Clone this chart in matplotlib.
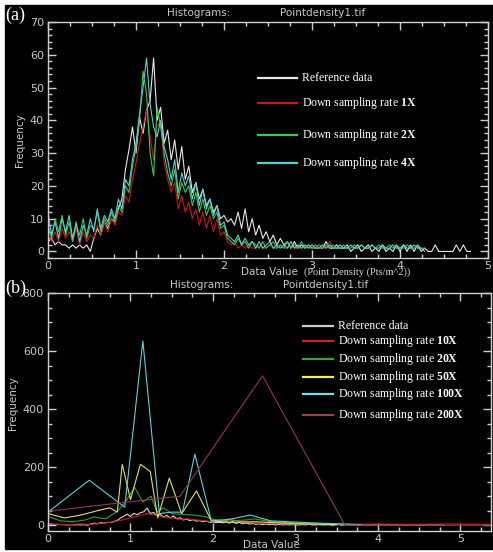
import numpy as np
import matplotlib
matplotlib.use("Agg")
import matplotlib.pyplot as plt
from matplotlib.patches import Rectangle
from matplotlib.ticker import MultipleLocator

plt.rcParams["mathtext.fontset"] = "custom"
plt.rcParams["mathtext.rm"] = "Liberation Serif"
plt.rcParams["mathtext.bf"] = "Liberation Serif:bold"

# ---- panel (a): histograms, bin step 0.04 starting at 0 ----
STEP_A = 0.04
ref_a = [3, 4, 2, 3, 2, 2, 1, 2, 1, 2, 1, 2, 0, 4, 7, 5, 9, 7, 10, 9,
         13, 16, 25, 31, 38, 30, 41, 36, 43, 46, 59, 40, 44, 33, 37, 28, 34, 25, 32, 22,
         26, 18, 21, 16, 19, 14, 16, 12, 14, 10, 11, 9, 10, 8, 12, 7, 13, 6, 10, 5,
         8, 4, 6, 3, 5, 2, 4, 2, 3, 1, 3, 1, 2, 1, 2, 1, 1, 2, 1, 3,
         1, 1, 2, 1, 1, 2, 0, 1, 2, 0, 1, 2, 0, 1, 0, 2, 0, 1, 0, 2,
         0, 2, 0, 2, 0, 2, 0, 1, 0, 0, 2, 0, 0, 0, 0, 0, 2, 0, 2, 0, 0]
rate1x = [5, 3, 6, 3, 7, 4, 6, 3, 7, 2, 6, 3, 5, 4, 8, 5, 9, 6, 10, 8,
          12, 11, 17, 15, 22, 27, 33, 38, 43, 35, 28, 38, 40, 27, 22, 18, 21, 13, 17, 12,
          15, 10, 13, 8, 12, 7, 11, 6, 10, 5, 6, 3, 2, 3, 1, 2, 1, 2, 1, 1,
          2, 1, 1, 2, 1, 1, 2, 1, 1, 2, 1, 1, 1, 2, 1, 1, 1, 2, 1, 1,
          3, 1, 1, 1]
rate2x = [8, 4, 10, 6, 11, 5, 9, 3, 8, 5, 10, 4, 8, 7, 12, 6, 10, 8, 12, 9,
          14, 12, 20, 18, 26, 32, 40, 55, 48, 30, 23, 44, 38, 30, 24, 20, 25, 16, 21, 18,
          20, 14, 18, 12, 16, 11, 14, 10, 12, 7, 8, 4, 3, 2, 4, 2, 3, 1, 3, 2,
          1, 3, 1, 2, 3, 1, 2, 1, 3, 1, 2, 1, 3, 1, 2, 1, 2, 1, 1, 2,
          1, 2, 1, 1, 2, 1, 1, 2, 1, 2, 1, 1, 2, 1, 2, 1, 1, 2, 1, 2,
          1, 1, 2, 1, 1, 2, 1, 1]
rate4x = [12, 5, 9, 4, 10, 6, 11, 4, 9, 3, 8, 5, 10, 6, 13, 7, 11, 9, 13, 10,
          16, 13, 22, 20, 28, 33, 42, 50, 59, 45, 38, 35, 40, 32, 28, 22, 28, 18, 24, 20,
          23, 16, 21, 14, 19, 13, 16, 11, 14, 8, 9, 5, 4, 3, 5, 2, 4, 2, 3, 1,
          3, 1, 2, 3, 1, 2, 1, 2, 1, 3, 1, 2, 1, 2, 1, 2, 1, 1, 2, 1,
          2, 1, 1, 2, 1, 1, 2, 1, 1, 2, 1, 1, 2, 1, 1, 2, 1, 1, 2, 1,
          1, 2, 1, 1, 2, 1, 1, 0]

# ---- panel (b): down-sampled histograms ----
rate10x_x = [0.0, 0.1, 0.2, 0.3, 0.4, 0.5, 0.6, 0.7, 0.8, 0.9, 1.0, 1.1, 1.2, 1.3,
             1.4, 1.5, 1.6, 1.7, 1.8, 1.9, 2.0, 2.1, 2.2, 2.3, 2.4, 2.5, 2.6, 2.8,
             3.0, 3.3, 3.6, 4.0, 4.4, 4.8, 5.4]
rate10x_y = [5, 3, 2, 3, 4, 3, 5, 8, 12, 18, 25, 32, 40, 35,
             28, 25, 20, 22, 18, 15, 12, 16, 22, 14, 10, 8, 6, 5,
             4, 4, 3, 4, 3, 4, 3]
rate20x_x = [0.0, 0.15, 0.3, 0.45, 0.55, 0.7, 0.85, 0.95, 1.05, 1.15, 1.25, 1.32,
             1.4, 1.5, 1.6, 1.75, 1.9, 2.0, 2.2, 2.4, 2.5, 2.7, 3.0, 3.3, 3.6]
rate20x_y = [30, 15, 12, 18, 28, 22, 50, 85, 130, 80, 100, 45,
             60, 40, 38, 35, 30, 20, 15, 18, 22, 12, 8, 5, 3]
rate50x_x = [0.0, 0.2, 0.4, 0.6, 0.75, 0.84, 0.9, 1.0, 1.12, 1.24, 1.33, 1.47,
             1.62, 1.8, 1.98, 2.2, 2.5, 3.0, 3.5]
rate50x_y = [40, 25, 35, 50, 60, 45, 210, 88, 210, 185, 25, 162,
             40, 118, 15, 10, 12, 5, 2]
rate100x_x = [0.0, 0.5, 0.93, 1.15, 1.35, 1.5, 1.63, 1.78, 1.98, 2.2, 2.45, 2.7,
              3.2, 3.8]
rate100x_y = [45, 155, 62, 635, 40, 45, 45, 245, 15, 20, 35, 15, 8, 2]
rate200x_x = [0.0, 0.6, 1.6, 2.6, 3.6, 4.6, 5.4]
rate200x_y = [48, 68, 100, 515, 0, 0, 0]

W, H = 493, 552


def fx(px):
    return px / W


def fy(py):
    return 1 - py / H


def style_axes(ax, xlim, ylim, xmaj, xmin, ymaj, ymin):
    ax.set_facecolor("black")
    ax.set_xlim(*xlim)
    ax.set_ylim(*ylim)
    ax.xaxis.set_major_locator(MultipleLocator(xmaj))
    ax.xaxis.set_minor_locator(MultipleLocator(xmin))
    ax.yaxis.set_major_locator(MultipleLocator(ymaj))
    ax.yaxis.set_minor_locator(MultipleLocator(ymin))
    for s in ax.spines.values():
        s.set_color("#cfcfcf")
        s.set_linewidth(1.0)
    ax.tick_params(which="both", direction="in", top=True, right=True,
                   colors="#cfcfcf", labelcolor="#c8c8c8", labelsize=8, width=1)
    ax.tick_params(which="major", length=6)
    ax.tick_params(which="minor", length=3)
    ax.tick_params(axis="x", pad=2)
    ax.tick_params(axis="y", pad=3)


fig = plt.figure(figsize=(W / 100, H / 100), dpi=100)
fig.patch.set_facecolor("white")
fig.add_artist(Rectangle((fx(5), fy(549)), fx(488), (549 - 5) / H,
                         transform=fig.transFigure, color="black", zorder=0))

# ---------------- panel (a) ----------------
ax1 = fig.add_axes([fx(48), fy(258), fx(488 - 48), (258 - 22) / H])
style_axes(ax1, (0, 5), (-2, 70), 1, 0.25, 10, 2)

series_a = [
    (ref_a, "#e6e6e6"),
    (rate1x, "#c81818"),
    (rate2x, "#38c848"),
    (rate4x, "#58cdd0"),
]
for vals, col in series_a:
    xs = np.arange(len(vals)) * STEP_A
    ax1.plot(xs, vals, color=col, lw=0.8)

labels_a = ["Reference data", r"Down sampling rate $\mathbf{1X}$",
            r"Down sampling rate $\mathbf{2X}$", r"Down sampling rate $\mathbf{4X}$"]
cols_a = ["#e6e6e6", "#c81818", "#40c850", "#58cdd0"]
ys_a = [78, 103, 135, 163]
for lab, col, yy in zip(labels_a, cols_a, ys_a):
    fig.add_artist(plt.Line2D([fx(258), fx(297)], [fy(yy), fy(yy)], color=col, lw=1.6,
                              transform=fig.transFigure))
    fig.text(fx(302), fy(yy), lab, color="white", fontsize=8.5,
             family="Liberation Serif", va="center", ha="left")

fig.text(fx(167), fy(13), "Histograms:", color="#c8c8c8", fontsize=7.5,
         va="center", ha="left")
fig.text(fx(280), fy(13), "Pointdensity1.tif", color="#c8c8c8", fontsize=7.5,
         va="center", ha="left")
fig.text(fx(241), fy(272), "Data Value", color="#c8c8c8", fontsize=7.5,
         va="center", ha="left")
fig.text(fx(304), fy(272), "(Point Density (Pts/m^2))", color="#d8d8d8", fontsize=7.5,
         family="Liberation Serif", va="center", ha="left")
fig.text(fx(20), fy(140), "Frequency", color="#c8c8c8", fontsize=7.5,
         rotation=90, va="center", ha="center")
fig.text(fx(5), fy(15), "(a)", color="white", fontsize=13,
         family="Liberation Serif", va="center", ha="left")

# ---------------- panel (b) ----------------
ax2 = fig.add_axes([fx(48), fy(531), fx(491 - 48), (531 - 293) / H])
style_axes(ax2, (0, 5.37), (-20, 800), 1, 0.25, 200, 50)

ax2.plot(np.arange(len(ref_a)) * STEP_A, ref_a, color="#d8d8d8", lw=0.8)
ax2.plot(rate10x_x, rate10x_y, color="#c82020", lw=0.8)
ax2.plot(rate20x_x, rate20x_y, color="#3a9a3a", lw=0.8)
ax2.plot(rate50x_x, rate50x_y, color="#e0e060", lw=0.8)
ax2.plot(rate100x_x, rate100x_y, color="#60d0d8", lw=0.8)
ax2.plot(rate200x_x, rate200x_y, color="#8c3c4c", lw=0.8)

labels_b = ["Reference data", r"Down sampling rate $\mathbf{10X}$",
            r"Down sampling rate $\mathbf{20X}$", r"Down sampling rate $\mathbf{50X}$",
            r"Down sampling rate $\mathbf{100X}$", r"Down sampling rate $\mathbf{200X}$"]
cols_b = ["#c8c8c8", "#d02020", "#40a040", "#f0f060", "#70e0e8", "#8a4a50"]
ys_b = [326, 341, 359, 377, 394, 415]
for lab, col, yy in zip(labels_b, cols_b, ys_b):
    fig.add_artist(plt.Line2D([fx(303), fx(333)], [fy(yy), fy(yy)], color=col, lw=1.6,
                              transform=fig.transFigure))
    fig.text(fx(338), fy(yy), lab, color="white", fontsize=8.5,
             family="Liberation Serif", va="center", ha="left")

fig.text(fx(170), fy(285), "Histograms:", color="#c8c8c8", fontsize=7.5,
         va="center", ha="left")
fig.text(fx(283), fy(285), "Pointdensity1.tif", color="#c8c8c8", fontsize=7.5,
         va="center", ha="left")
fig.text(fx(243), fy(545), "Data Value", color="#c8c8c8", fontsize=7.5,
         va="center", ha="left")
fig.text(fx(13), fy(403), "Frequency", color="#c8c8c8", fontsize=7.5,
         rotation=90, va="center", ha="center")
fig.text(fx(5), fy(288), "(b)", color="white", fontsize=13,
         family="Liberation Serif", va="center", ha="left")

fig.savefig("out.png", dpi=100, facecolor=fig.get_facecolor())
